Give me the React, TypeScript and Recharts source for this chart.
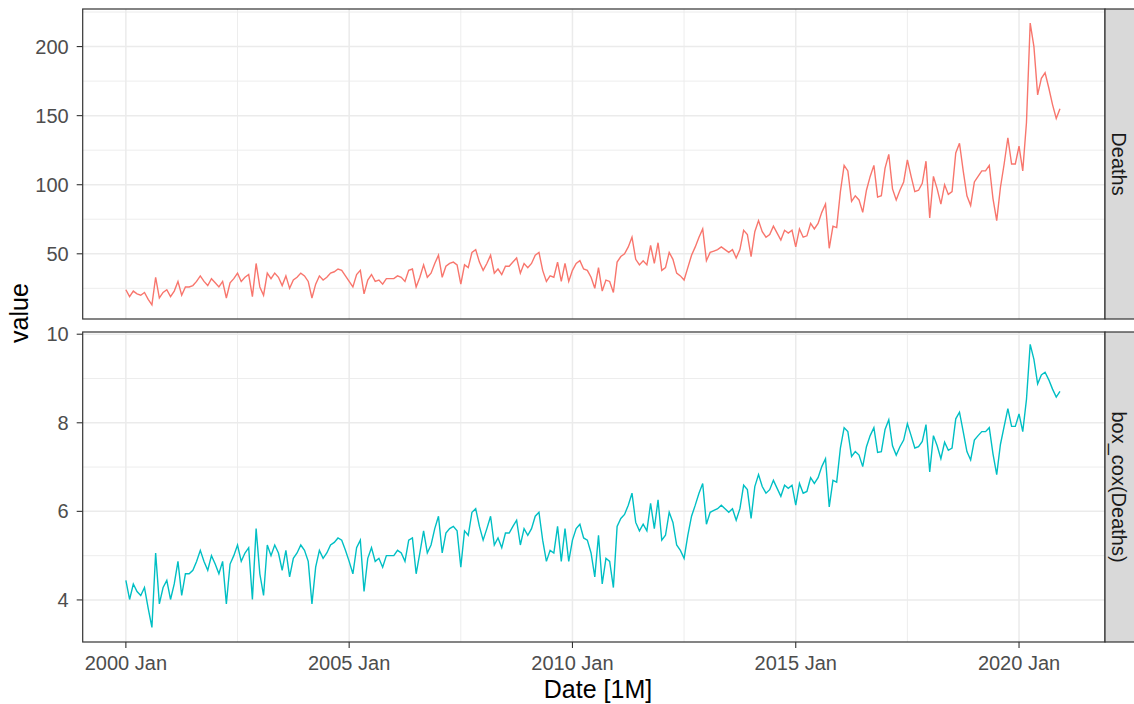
import React from "react";
import { LineChart, Line, XAxis, YAxis, CartesianGrid } from "recharts";

// Monthly series, January 2000 to December 2020
const YEARS = [
  2000, 2001, 2002, 2003, 2004, 2005, 2006, 2007, 2008, 2009, 2010,
  2011, 2012, 2013, 2014, 2015, 2016, 2017, 2018, 2019, 2020,
];
const MONTHS = ["Jan", "Feb", "Mar", "Apr", "May", "Jun", "Jul", "Aug", "Sep", "Oct", "Nov", "Dec"];

const DEATHS = [
  24, 19, 23, 21, 20, 22, 17, 13, 33, 18, 22, 24,
  19, 23, 30, 20, 26, 26, 27, 30, 34, 30, 27, 32,
  29, 26, 30, 18, 29, 32, 36, 30, 33, 35, 19, 43,
  26, 20, 36, 32, 36, 33, 27, 34, 25, 31, 33, 36,
  34, 30, 18, 28, 34, 31, 33, 36, 37, 39, 38, 34,
  30, 26, 35, 38, 21, 31, 35, 30, 31, 28, 32, 32,
  32, 34, 33, 30, 38, 39, 26, 33, 42, 33, 36, 43,
  49, 33, 41, 43, 44, 42, 28, 42, 40, 51, 53, 44,
  38, 43, 49, 36, 39, 35, 41, 41, 44, 47, 36, 43,
  40, 43, 49, 51, 38, 30, 34, 33, 44, 30, 43, 30,
  38, 43, 45, 39, 38, 33, 25, 40, 23, 31, 30, 22,
  44, 48, 50, 55, 62, 46, 42, 45, 42, 56, 43, 58,
  38, 40, 51, 46, 36, 34, 31, 40, 49, 55, 62, 68,
  45, 51, 52, 53, 55, 53, 51, 53, 47, 53, 67, 64,
  48, 66, 74, 66, 62, 64, 70, 65, 60, 67, 65, 67,
  55, 68, 62, 63, 72, 68, 72, 80, 86, 54, 70, 69,
  95, 114, 110, 88, 92, 89, 80, 96, 106, 114, 91, 92,
  112, 122, 97, 89, 96, 102, 118, 106, 95, 96, 101, 117,
  76, 106, 97, 86, 100, 93, 95, 123, 130, 110, 92, 85,
  102, 106, 110, 110, 114, 90, 74, 98, 115, 134, 115, 115,
  128, 110, 145, 217, 200, 165, 177, 181, 170, 158, 148, 155,
];

const BOX_COX_DEATHS = [
  4.44, 4.01, 4.36, 4.19, 4.10, 4.28, 3.81, 3.38, 5.06, 3.91, 4.28, 4.44,
  4.01, 4.36, 4.87, 4.10, 4.59, 4.59, 4.67, 4.87, 5.12, 4.87, 4.67, 5.00,
  4.81, 4.59, 4.87, 3.91, 4.81, 5.00, 5.24, 4.87, 5.06, 5.18, 4.01, 5.61,
  4.59, 4.10, 5.24, 5.00, 5.24, 5.06, 4.67, 5.12, 4.52, 4.94, 5.06, 5.24,
  5.12, 4.87, 3.91, 4.74, 5.12, 4.94, 5.06, 5.24, 5.30, 5.40, 5.35, 5.12,
  4.87, 4.59, 5.18, 5.35, 4.19, 4.94, 5.18, 4.87, 4.94, 4.74, 5.00, 5.00,
  5.00, 5.12, 5.06, 4.87, 5.35, 5.40, 4.59, 5.06, 5.56, 5.06, 5.24, 5.61,
  5.89, 5.06, 5.51, 5.61, 5.66, 5.56, 4.74, 5.56, 5.46, 5.98, 6.06, 5.66,
  5.35, 5.61, 5.89, 5.24, 5.40, 5.18, 5.51, 5.51, 5.66, 5.80, 5.24, 5.61,
  5.46, 5.61, 5.89, 5.98, 5.35, 4.87, 5.12, 5.06, 5.66, 4.87, 5.61, 4.87,
  5.35, 5.61, 5.71, 5.40, 5.35, 5.06, 4.52, 5.46, 4.36, 4.94, 4.87, 4.28,
  5.66, 5.84, 5.93, 6.14, 6.41, 5.75, 5.56, 5.71, 5.56, 6.18, 5.61, 6.26,
  5.35, 5.46, 5.98, 5.75, 5.24, 5.12, 4.94, 5.46, 5.89, 6.14, 6.41, 6.63,
  5.71, 5.98, 6.02, 6.06, 6.14, 6.06, 5.98, 6.06, 5.80, 6.06, 6.59, 6.49,
  5.84, 6.56, 6.83, 6.56, 6.41, 6.49, 6.70, 6.52, 6.34, 6.59, 6.52, 6.59,
  6.14, 6.63, 6.41, 6.45, 6.76, 6.63, 6.76, 7.01, 7.19, 6.10, 6.70, 6.66,
  7.43, 7.89, 7.80, 7.24, 7.35, 7.27, 7.01, 7.46, 7.71, 7.89, 7.33, 7.35,
  7.85, 8.07, 7.48, 7.27, 7.46, 7.61, 7.98, 7.71, 7.43, 7.46, 7.58, 7.96,
  6.89, 7.71, 7.48, 7.19, 7.56, 7.38, 7.43, 8.09, 8.24, 7.80, 7.35, 7.16,
  7.61, 7.71, 7.80, 7.80, 7.89, 7.30, 6.83, 7.51, 7.92, 8.32, 7.92, 7.92,
  8.20, 7.80, 8.53, 9.77, 9.43, 8.88, 9.08, 9.14, 8.97, 8.76, 8.58, 8.71,
];

// Axis breaks
const X_MAJOR_LABELS = ["2000 Jan", "2005 Jan", "2010 Jan", "2015 Jan", "2020 Jan"];
const X_MINOR_LABELS = ["2002 Jul", "2007 Jul", "2012 Jul", "2017 Jul"];
const DEATHS_MAJOR = [50, 100, 150, 200];
const DEATHS_MINOR = [25, 75, 125, 175, 225];
const BOX_COX_MAJOR = [4, 6, 8, 10];
const BOX_COX_MINOR = [5, 7, 9];

const FACETS = ["Deaths", "box_cox(Deaths)"];

const FONT = '"Liberation Sans", Arial, Helvetica, sans-serif';
const RED = "#F8766D";
const TEAL = "#00BFC4";
const GRID = "#EBEBEB";
const DARK = "#333333";
const TICK_TEXT = "#4D4D4D";

const rows = DEATHS.map((d, i) => ({
  t: i,
  date: `${YEARS[Math.floor(i / 12)]} ${MONTHS[i % 12]}`,
  deaths: d,
  boxcox: BOX_COX_DEATHS[i],
}));

const indexOfDate = (label: string) => rows.findIndex((r) => r.date === label);
const X_MAJOR = X_MAJOR_LABELS.map(indexOfDate);
const X_MINOR = X_MINOR_LABELS.map(indexOfDate);

const X_DOMAIN: [number, number] = [-11.6, 263.1];

const W = 1134;
const PANEL_LEFT = 82.7;
const PANEL_RIGHT = 1105;
const TOP_PANEL = { y: 9, h: 310 };
const BOTTOM_PANEL = { y: 332, h: 310 };

// Map a value through the axis scale handed to the grid generators,
// falling back to a linear map over the plot offset.
function project(
  scale: any,
  v: number,
  domain: [number, number],
  start: number,
  size: number,
  invert: boolean
) {
  if (typeof scale === "function") {
    const r = scale(v);
    if (typeof r === "number" && isFinite(r)) return r;
  }
  if (scale && typeof scale.map === "function") {
    const r = scale.map(v);
    if (typeof r === "number" && isFinite(r)) return r;
  }
  const f = (v - domain[0]) / (domain[1] - domain[0]);
  return invert ? start + (1 - f) * size : start + f * size;
}

const hGen = (values: number[], domain: [number, number]) => (props: any) => {
  const off = props?.offset ?? {};
  return values.map((v) =>
    project(props?.yAxis?.scale, v, domain, off.top ?? 0, off.height ?? 0, true)
  );
};
const vGen = (values: number[]) => (props: any) => {
  const off = props?.offset ?? {};
  return values.map((v) =>
    project(props?.xAxis?.scale, v, X_DOMAIN, off.left ?? 0, off.width ?? 0, false)
  );
};

const tickStyle = { fill: TICK_TEXT, fontSize: 20, fontFamily: FONT };

function Panel({
  dataKey,
  color,
  domain,
  major,
  minor,
  height,
  marginTop,
  showX,
}: {
  dataKey: string;
  color: string;
  domain: [number, number];
  major: number[];
  minor: number[];
  height: number;
  marginTop: number;
  showX: boolean;
}) {
  const xAxisHeight = showX ? 62 : 0;
  const bottom = showX ? 0 : height - marginTop - 310;
  return (
    <LineChart
      width={W}
      height={height}
      data={rows}
      margin={{ top: marginTop, right: W - PANEL_RIGHT, bottom, left: 0 }}
    >
      <CartesianGrid
        stroke={GRID}
        strokeWidth={0.9}
        horizontalCoordinatesGenerator={hGen(minor, domain)}
        verticalCoordinatesGenerator={vGen(X_MINOR)}
      />
      <CartesianGrid
        stroke={GRID}
        strokeWidth={1.5}
        horizontalCoordinatesGenerator={hGen(major, domain)}
        verticalCoordinatesGenerator={vGen(X_MAJOR)}
      />
      <XAxis
        type="number"
        dataKey="t"
        domain={X_DOMAIN}
        allowDataOverflow
        ticks={X_MAJOR}
        tickFormatter={(v: number) => rows[v]?.date ?? ""}
        hide={!showX}
        height={xAxisHeight}
        axisLine={false}
        tickLine={{ stroke: DARK, strokeWidth: 1.1 }}
        tickSize={6}
        tickMargin={8}
        tick={tickStyle}
        interval={0}
      />
      <YAxis
        type="number"
        domain={domain}
        allowDataOverflow
        ticks={major}
        width={PANEL_LEFT}
        axisLine={false}
        tickLine={{ stroke: DARK, strokeWidth: 1.1 }}
        tickSize={6}
        tickMargin={8}
        tick={tickStyle}
        interval={0}
      />
      <Line
        type="linear"
        dataKey={dataKey}
        stroke={color}
        strokeWidth={1.4}
        dot={false}
        activeDot={false}
        isAnimationActive={false}
      />
    </LineChart>
  );
}

export default function App() {
  const stripW = 40;
  return (
    <div
      style={{
        position: "absolute",
        left: 0,
        top: 0,
        width: W,
        height: 704,
        background: "#ffffff",
        overflow: "hidden",
        fontFamily: FONT,
      }}
    >
      <div style={{ position: "absolute", left: 0, top: 0 }}>
        <Panel
          dataKey="deaths"
          color={RED}
          domain={[2.8, 227.2]}
          major={DEATHS_MAJOR}
          minor={DEATHS_MINOR}
          height={330}
          marginTop={TOP_PANEL.y}
          showX={false}
        />
      </div>
      <div style={{ position: "absolute", left: 0, top: 320 }}>
        <Panel
          dataKey="boxcox"
          color={TEAL}
          domain={[3.05, 10.05]}
          major={BOX_COX_MAJOR}
          minor={BOX_COX_MINOR}
          height={384}
          marginTop={BOTTOM_PANEL.y - 320}
          showX={true}
        />
      </div>
      <svg
        width={W}
        height={704}
        style={{ position: "absolute", left: 0, top: 0, pointerEvents: "none" }}
      >
        {[TOP_PANEL, BOTTOM_PANEL].map((p, i) => (
          <g key={FACETS[i]}>
            <rect
              x={PANEL_LEFT}
              y={p.y}
              width={PANEL_RIGHT - PANEL_LEFT}
              height={p.h}
              fill="none"
              stroke={DARK}
              strokeWidth={1.2}
            />
            <rect
              x={PANEL_RIGHT}
              y={p.y}
              width={stripW}
              height={p.h}
              fill="#D9D9D9"
              stroke={DARK}
              strokeWidth={1.2}
            />
            <text
              x={PANEL_RIGHT + 14}
              y={p.y + p.h / 2}
              transform={`rotate(90 ${PANEL_RIGHT + 14} ${p.y + p.h / 2})`}
              textAnchor="middle"
              dominantBaseline="central"
              fontSize={20}
              fontFamily={FONT}
              fill="#1A1A1A"
            >
              {FACETS[i]}
            </text>
          </g>
        ))}
        <text
          x={28}
          y={313}
          transform="rotate(-90 28 313)"
          textAnchor="middle"
          fontSize={25}
          fontFamily={FONT}
          fill="#000000"
        >
          value
        </text>
        <text
          x={598}
          y={698}
          textAnchor="middle"
          fontSize={25}
          fontFamily={FONT}
          fill="#000000"
        >
          Date [1M]
        </text>
      </svg>
    </div>
  );
}
